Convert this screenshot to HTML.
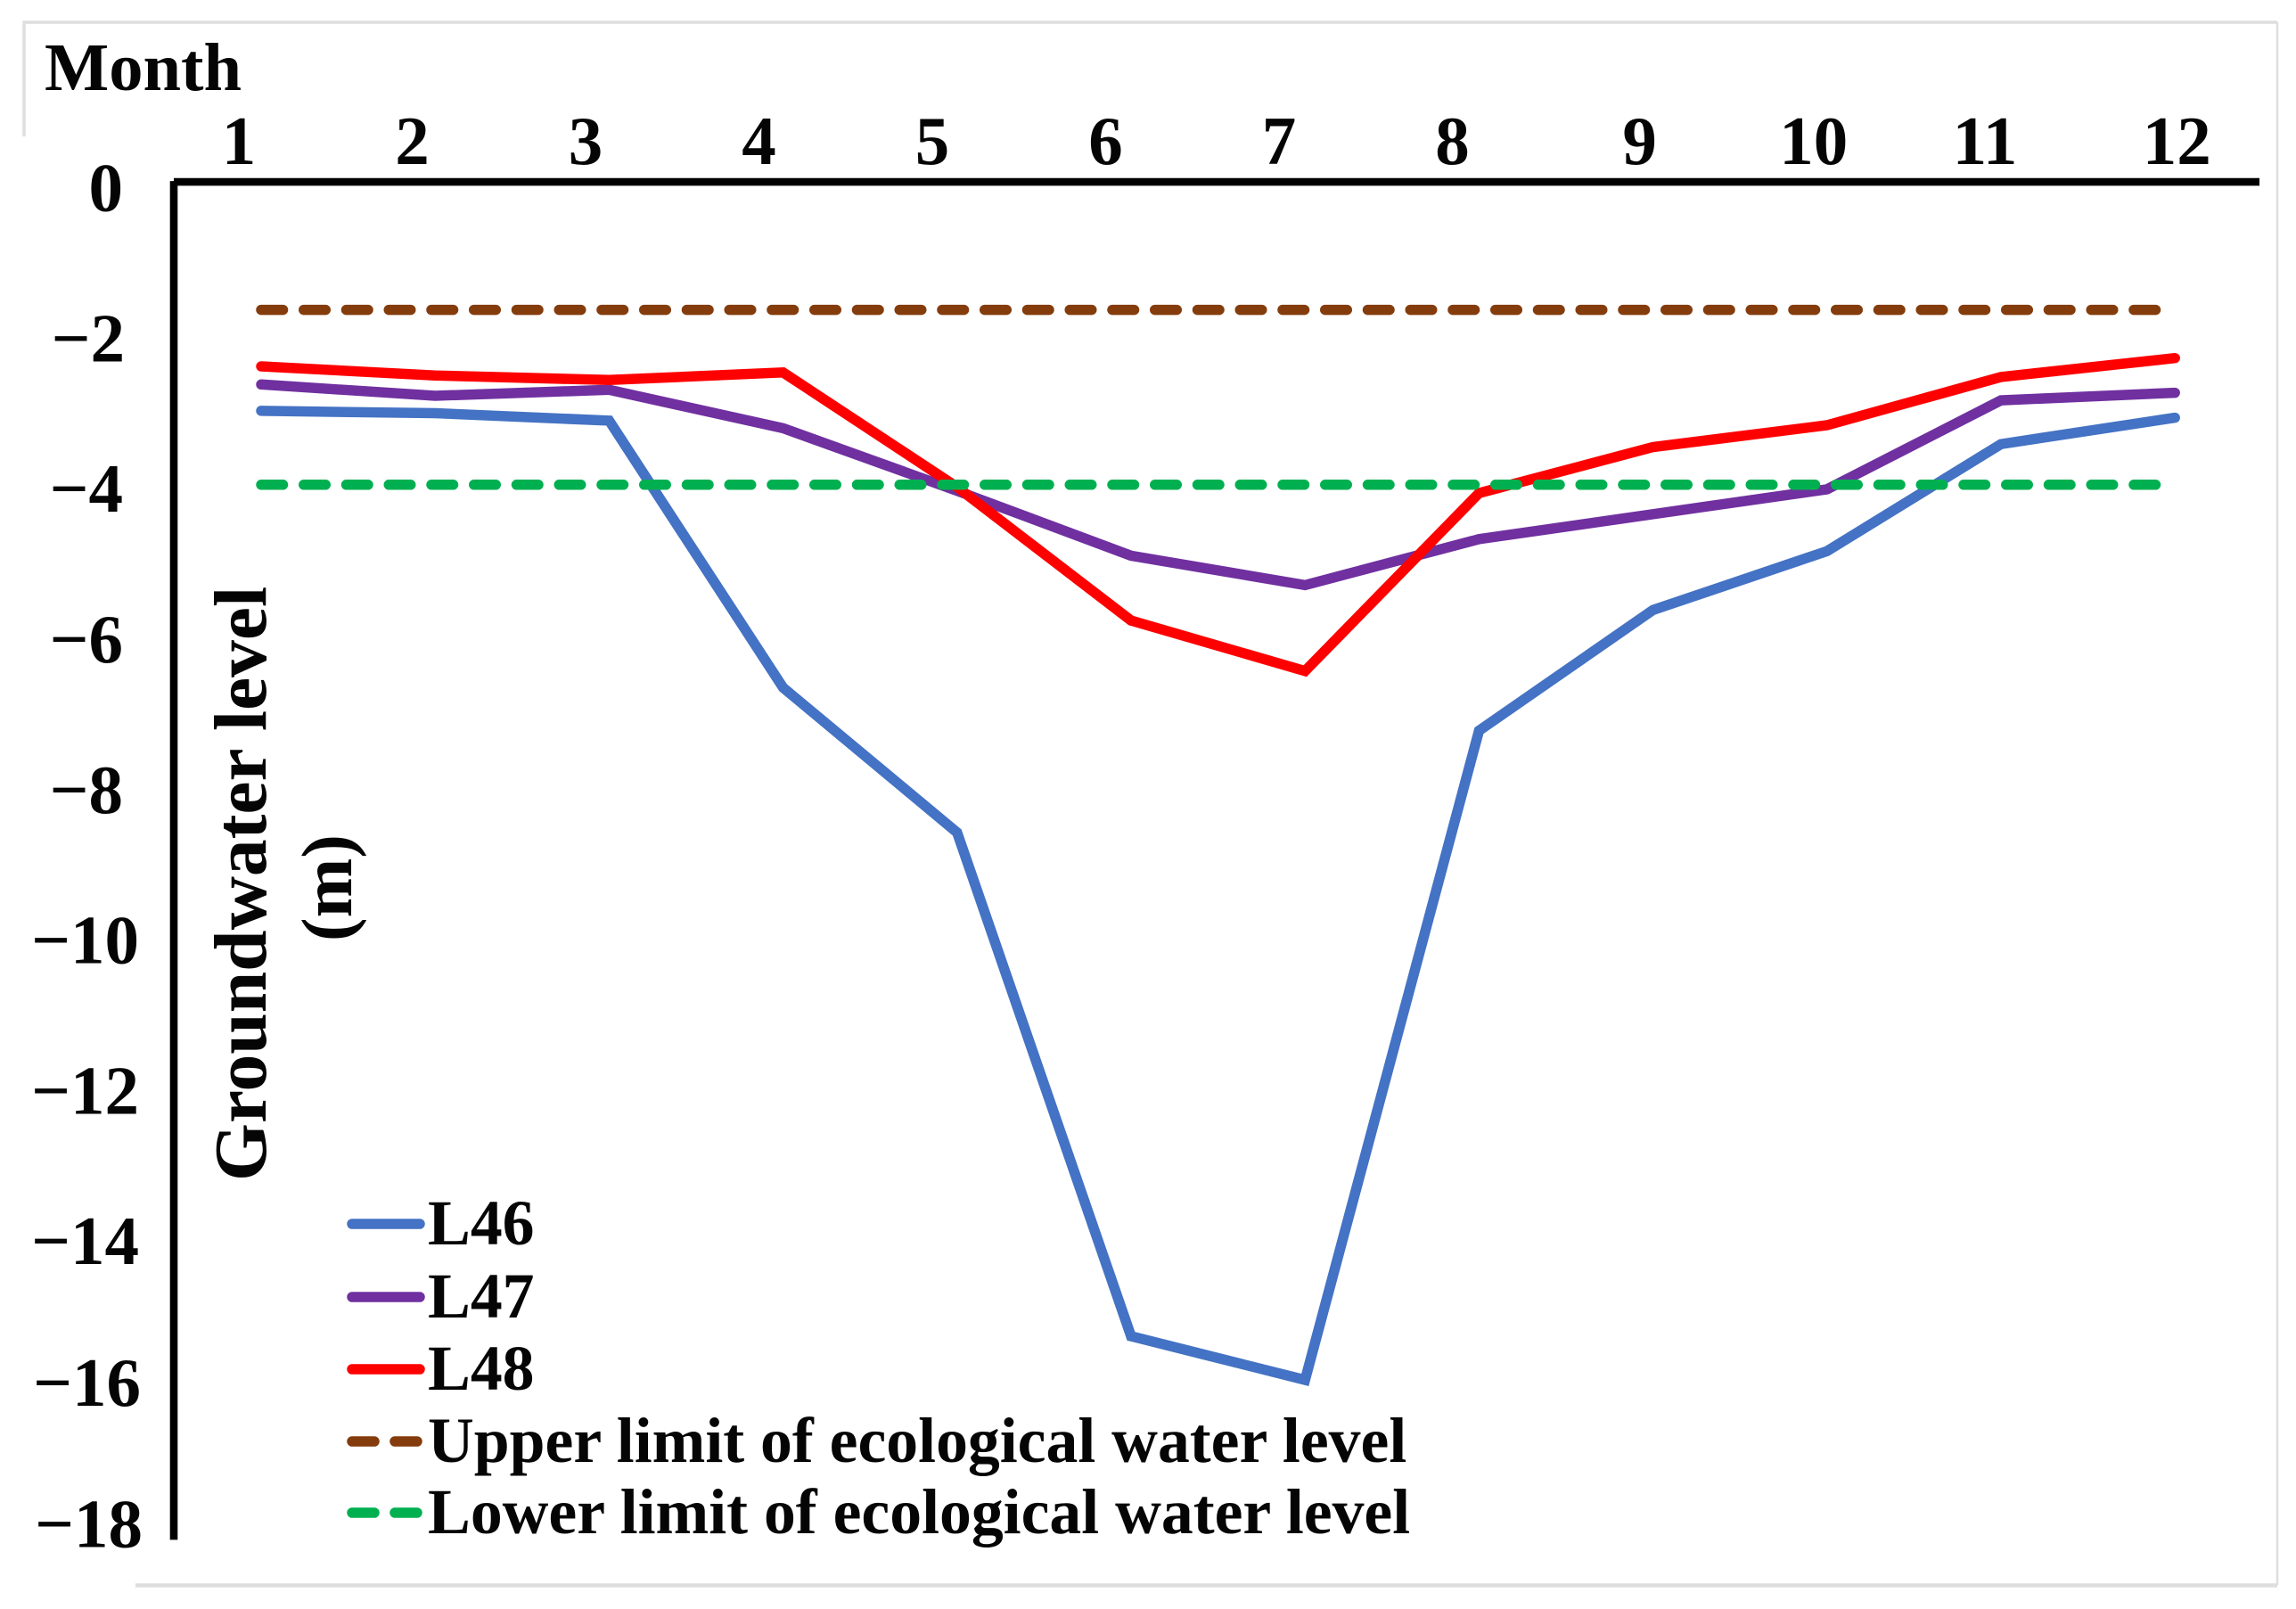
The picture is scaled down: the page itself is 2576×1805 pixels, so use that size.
<!DOCTYPE html>
<html lang="en">
<head>
<meta charset="utf-8">
<title>Groundwater level by month</title>
<style>
html,body{margin:0;padding:0;background:#fff;}
svg{display:block;}
text{font-family:"Liberation Serif","Times New Roman",serif;font-weight:bold;fill:#050505;}
</style>
</head>
<body>
<svg id="chart" xmlns="http://www.w3.org/2000/svg" width="2576" height="1805" viewBox="0 0 2576 1805">
  <rect x="0" y="0" width="2576" height="1805" fill="#ffffff"/>
  <g stroke="#dedede" fill="none">
    <path d="M27 153V25H2555" stroke-width="3.5"/>
    <path d="M2555 25V1778" stroke-width="2.5"/>
    <path d="M152 1778.5H2555" stroke-width="4.5"/>
  </g>
  <text x="50" y="101" font-size="76.5">Month</text>
  <text transform="translate(298,1325) rotate(-90)" x="0" y="0" font-size="83.5">Groundwater level</text>
  <text transform="translate(394,1056) rotate(-90)" x="0" y="0" font-size="80">(m)</text>
  <g id="x-ticks"></g>
  <g id="y-ticks"></g>
  <g id="series"></g>
  <g id="axes"></g>
  <g id="legend"></g>
</svg>
<script>
const months = [1, 2, 3, 4, 5, 6, 7, 8, 9, 10, 11, 12];
const yTicks = [0, -2, -4, -6, -8, -10, -12, -14, -16, -18];
const l46 = [-3.03, -3.06, -3.16, -6.70, -8.62, -15.30, -15.88, -7.27, -5.67, -4.89, -3.47, -3.12];
const l47 = [-2.68, -2.83, -2.75, -3.26, -4.09, -4.95, -5.34, -4.73, -4.40, -4.07, -2.89, -2.79];
const l48 = [-2.44, -2.56, -2.62, -2.52, -4.04, -5.81, -6.48, -4.12, -3.51, -3.22, -2.58, -2.33];
const upperLimit = [-1.69, -1.69, -1.69, -1.69, -1.69, -1.69, -1.69, -1.69, -1.69, -1.69, -1.69, -1.69];
const lowerLimit = [-4.01, -4.01, -4.01, -4.01, -4.01, -4.01, -4.01, -4.01, -4.01, -4.01, -4.01, -4.01];
const seriesNames = ['L46', 'L47', 'L48', 'Upper limit of ecological water level', 'Lower limit of ecological water level'];

const NS = 'http://www.w3.org/2000/svg';
const strokeW = 11.5;
const dash = '24.5 23.25';

function xScale(month) { return 293 + (month - 1) * 195.2; }
function yScale(value) { return 204.6 - value * 84.6; }

function make(tag, parent, attrs) {
  const el = document.createElementNS(NS, tag);
  for (const k in attrs) el.setAttribute(k, attrs[k]);
  parent.appendChild(el);
  return el;
}

function monthLabelX(month) {
  if (month <= 8) return 268 + (month - 1) * 194.5;
  if (month === 12) return xScale(month) + 2;
  return xScale(month) - (month === 11 ? 18 : 15);
}
function tickBaseline(v) {
  if (v === -16) return yScale(v) + 19;
  if (v === -18) return yScale(v) + 8;
  return yScale(v) + 32 + v * 0.2;
}
function tickRight(v) {
  if (v === -18) return 160;
  if (v === -16) return 158;
  if (v <= -10) return 156;
  return v === -2 ? 140 : 138;
}

const xTickGroup = document.getElementById('x-ticks');
months.forEach(function (m) {
  const t = make('text', xTickGroup, { x: monthLabelX(m), y: 184, 'font-size': 77, 'text-anchor': 'middle' });
  
  
  t.textContent = String(m);
});

const yTickGroup = document.getElementById('y-ticks');
yTicks.forEach(function (v) {
  const t = make('text', yTickGroup, { x: tickRight(v), y: tickBaseline(v), 'font-size': 77, 'text-anchor': 'end' });
  
  
  t.textContent = v === 0 ? '0' : '\u2212' + Math.abs(v);
});

const seriesGroup = document.getElementById('series');
function drawLine(values, color, name, dashed) {
  const pts = values.map(function (v, i) { return xScale(months[i]).toFixed(1) + ',' + yScale(v).toFixed(1); });
  const line = make('polyline', seriesGroup, {
    points: pts.join(' '), fill: 'none', stroke: color, 'stroke-width': strokeW,
    'stroke-linecap': 'round', 'stroke-linejoin': 'miter'
  });
  if (dashed) line.setAttribute('stroke-dasharray', dash);
  
  
}
drawLine(upperLimit, '#843C0C', 'upper-limit-line', true);
drawLine(l46, '#4472C4', 'line-l46', false);
drawLine(l47, '#7030A0', 'line-l47', false);
drawLine(l48, '#FF0000', 'line-l48', false);
drawLine(lowerLimit, '#00B050', 'lower-limit-line', true);

const axesGroup = document.getElementById('axes');
const xAxis = make('line', axesGroup, { x1: 195, y1: yScale(0) - 0.5, x2: 2535, y2: yScale(0) - 0.5, stroke: '#000', 'stroke-width': 8.6 });


const yAxis = make('line', axesGroup, { x1: 195, y1: yScale(0) - 1.5, x2: 195, y2: yScale(-18), stroke: '#000', 'stroke-width': 8.6 });



const legendGroup = document.getElementById('legend');
const legendColors = ['#4472C4', '#7030A0', '#FF0000', '#843C0C', '#00B050'];
const legendRows = [1373, 1455, 1536, 1617, 1697];
seriesNames.forEach(function (name, i) {
  const isDashed = i >= 3;
  const swatch = make('line', legendGroup, {
    x1: 395, y1: legendRows[i], x2: isDashed ? 468 : 471, y2: legendRows[i],
    stroke: legendColors[i], 'stroke-width': strokeW, 'stroke-linecap': 'round'
  });
  if (isDashed) swatch.setAttribute('stroke-dasharray', '25 23');
  
  
  const label = make('text', legendGroup, { x: 480, y: legendRows[i] + 23, 'font-size': 71.7 });
  
  
  label.textContent = name;
});
</script>
</body>
</html>
